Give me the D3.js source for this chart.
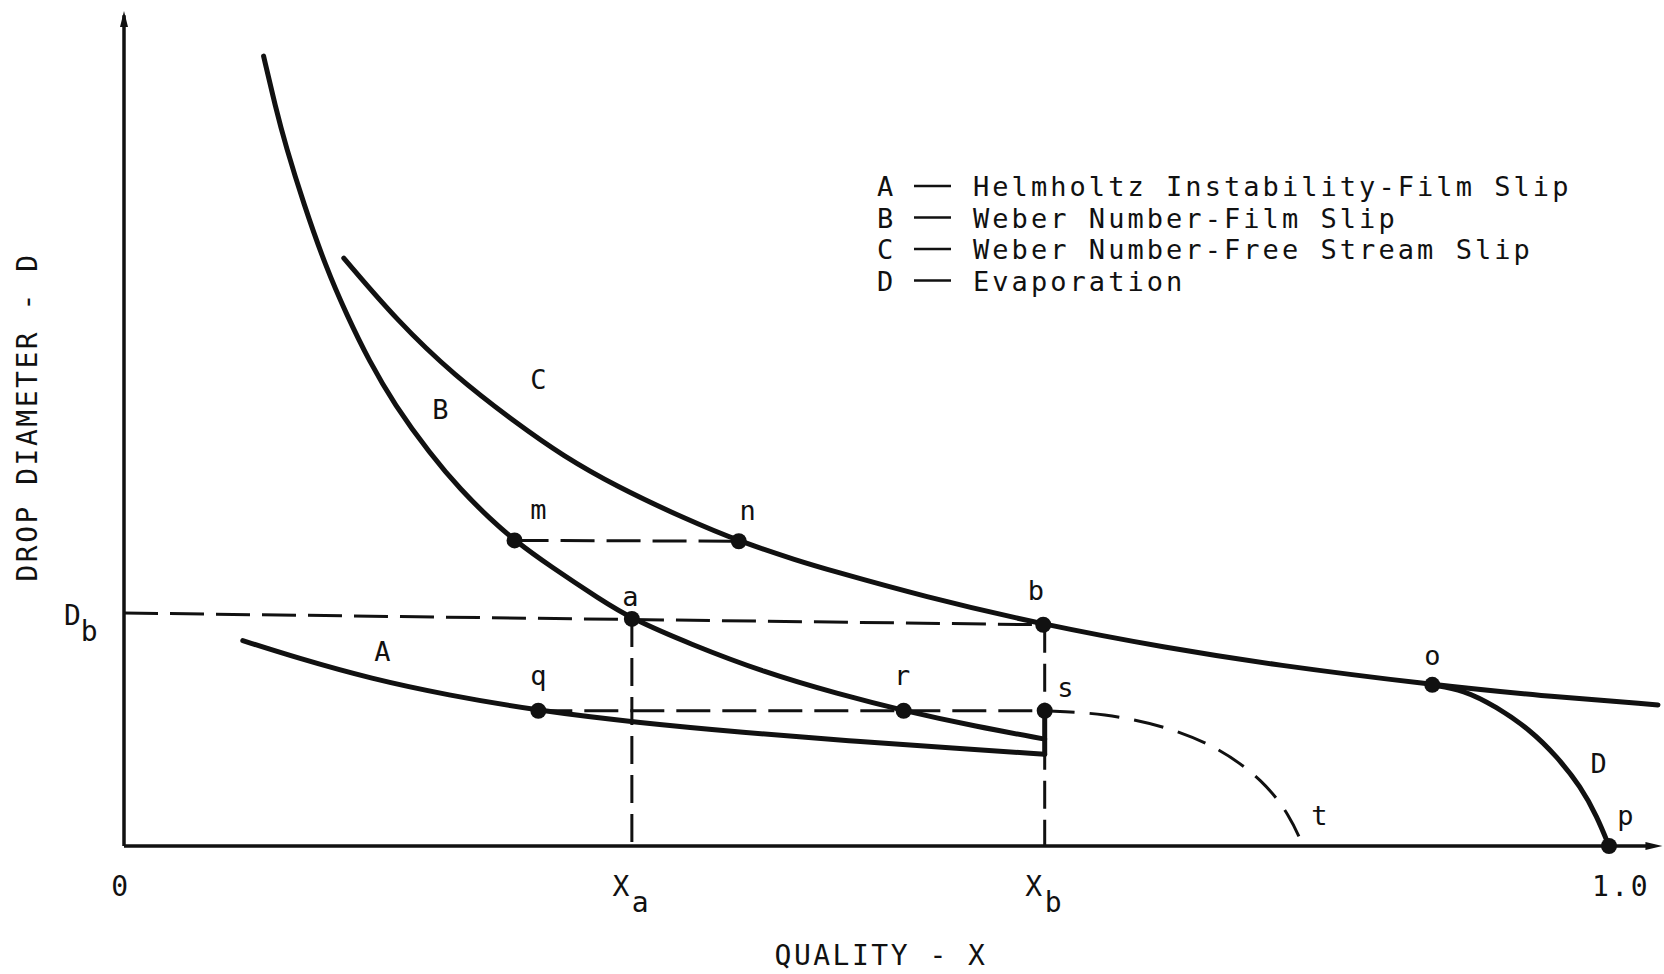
<!DOCTYPE html>
<html>
<head>
<meta charset="utf-8">
<script src="https://cdn.jsdelivr.net/npm/d3@7"></script>
<style>
  body { margin: 0; padding: 0; background: #ffffff; }
  text { font-family: "DejaVu Sans Mono", monospace; fill: #111; }
</style>
</head>
<body>
<script>
// quality (x, 0..1) and drop diameter (y, 0..1 of axis height)
const curveA = [
  [0.080, 0.246], [0.117, 0.225], [0.167, 0.200], [0.217, 0.181], [0.279, 0.162],
  [0.345, 0.148], [0.417, 0.136], [0.488, 0.126], [0.560, 0.117], [0.620, 0.110]
];
const curveB = [
  [0.094, 0.946], [0.102, 0.885], [0.109, 0.838], [0.121, 0.769], [0.136, 0.693],
  [0.150, 0.636], [0.165, 0.581], [0.182, 0.529], [0.206, 0.470], [0.227, 0.426],
  [0.247, 0.391], [0.263, 0.366], [0.287, 0.335], [0.321, 0.295], [0.342, 0.272],
  [0.381, 0.242], [0.431, 0.208], [0.481, 0.182], [0.525, 0.162], [0.574, 0.143],
  [0.620, 0.128]
];
const curveC = [
  [0.148, 0.704], [0.184, 0.629], [0.222, 0.564], [0.266, 0.504], [0.295, 0.468],
  [0.331, 0.431], [0.379, 0.391], [0.414, 0.365], [0.455, 0.341], [0.474, 0.331],
  [0.538, 0.299], [0.619, 0.265], [0.703, 0.237], [0.774, 0.217], [0.881, 0.193],
  [0.953, 0.180], [1.033, 0.169]
];
const curveD = [
  [0.881, 0.193], [0.902, 0.187], [0.924, 0.167], [0.947, 0.139], [0.965, 0.107],
  [0.981, 0.071], [0.992, 0.035], [1.000, 0.000]
];
const curveT = [
  [0.620, 0.162], [0.660, 0.159], [0.703, 0.143], [0.738, 0.117], [0.767, 0.079],
  [0.785, 0.037], [0.794, 0.000]
];

const Xa = 0.342;
const Xb = 0.620;
const DbLeft = 0.279;

// named points
const points = [
  { id: 'm', x: 0.263, y: 0.366 },
  { id: 'n', x: 0.414, y: 0.365 },
  { id: 'a', x: 0.342, y: 0.272 },
  { id: 'b', x: 0.619, y: 0.265 },
  { id: 'q', x: 0.279, y: 0.162 },
  { id: 'r', x: 0.525, y: 0.162 },
  { id: 's', x: 0.620, y: 0.162 },
  { id: 'o', x: 0.881, y: 0.193 },
  { id: 'p', x: 1.000, y: 0.000 }
];

// labels sitting next to points / curves
const labels = [
  { t: 'C', x: 0.279, y: 0.547 },
  { t: 'B', x: 0.213, y: 0.511 },
  { t: 'A', x: 0.174, y: 0.221 },
  { t: 'm', x: 0.279, y: 0.392 },
  { t: 'n', x: 0.420, y: 0.390 },
  { t: 'a', x: 0.341, y: 0.287 },
  { t: 'b', x: 0.614, y: 0.295 },
  { t: 'q', x: 0.279, y: 0.193 },
  { t: 'r', x: 0.524, y: 0.193 },
  { t: 's', x: 0.634, y: 0.179 },
  { t: 'o', x: 0.881, y: 0.217 },
  { t: 'D', x: 0.993, y: 0.088 },
  { t: 't', x: 0.805, y: 0.025 },
  { t: 'p', x: 1.011, y: 0.025 }
];

const legendKeys = ['A', 'B', 'C', 'D'];
const legendNames = [
  'Helmholtz Instability-Film Slip',
  'Weber Number-Film Slip',
  'Weber Number-Free Stream Slip',
  'Evaporation'
];

const xTicks = [
  { v: 0, main: '0', sub: '' },
  { v: Xa, main: 'X', sub: 'a' },
  { v: Xb, main: 'X', sub: 'b' },
  { v: 1, main: '1.0', sub: '' }
];

const width = 1664;
const height = 974;

const xScale = d3.scaleLinear().domain([0, 1]).range([124, 1609]);
const yScale = d3.scaleLinear().domain([0, 1]).range([846, 11]);

const svg = d3.select('body').append('svg')
  .attr('width', width)
  .attr('height', height);

svg.append('rect').attr('width', width).attr('height', height).attr('fill', '#fff');

const line = d3.line()
  .x(d => xScale(d[0]))
  .y(d => yScale(d[1]))
  .curve(d3.curveBasis);

const straight = d3.line()
  .x(d => xScale(d[0]))
  .y(d => yScale(d[1]));

// axes
const axes = svg.append('g').attr('stroke', '#111').attr('stroke-width', 3.5).attr('fill', 'none');
axes.append('path').attr('d', straight([[0, 0], [0, 0.995]]));
axes.append('path').attr('d', `M${xScale(0)},${yScale(0)}H${xScale(1.03)}`);

svg.append('path')
  .attr('fill', '#111')
  .attr('d', `M${xScale(0)},${yScale(1)} l-4,16 l8,0 z`);
svg.append('path')
  .attr('fill', '#111')
  .attr('d', `M${xScale(1.036)},${yScale(0)} l-17,-4 l0,8 z`);

// dashed guides
const dashed = svg.append('g')
  .attr('stroke', '#111')
  .attr('stroke-width', 3)
  .attr('fill', 'none');

const pt = id => points.find(p => p.id === id);

dashed.append('path')
  .attr('stroke-dasharray', '34,12')
  .attr('d', straight([[0, DbLeft], [pt('b').x, pt('b').y]]));
dashed.append('path')
  .attr('stroke-dasharray', '34,12')
  .attr('d', straight([[pt('m').x, pt('m').y], [pt('n').x, pt('n').y]]));
dashed.append('path')
  .attr('stroke-dasharray', '34,12')
  .attr('d', straight([[pt('q').x, pt('q').y], [pt('s').x, pt('s').y]]));
dashed.append('path')
  .attr('stroke-dasharray', '28,11')
  .attr('d', straight([[Xa, pt('a').y], [Xa, 0]]));
dashed.append('path')
  .attr('stroke-dasharray', '28,11')
  .attr('d', straight([[Xb, pt('b').y], [Xb, 0]]));
dashed.append('path')
  .attr('stroke-dasharray', '30,15')
  .attr('d', line(curveT));

// curves
const curves = svg.append('g')
  .attr('stroke', '#111')
  .attr('stroke-width', 5)
  .attr('stroke-linecap', 'round')
  .attr('stroke-linejoin', 'round')
  .attr('fill', 'none');

curves.selectAll('path.c')
  .data([curveA, curveB, curveC, curveD])
  .join('path')
    .attr('class', 'c')
    .attr('d', line);

// solid drop at Xb joining B and A
curves.append('path')
  .attr('d', straight([[Xb, pt('s').y], [Xb, curveA[curveA.length - 1][1]]]));

// points
svg.append('g')
  .attr('fill', '#111')
  .selectAll('circle')
  .data(points)
  .join('circle')
    .attr('cx', d => xScale(d.x))
    .attr('cy', d => yScale(d.y))
    .attr('r', 8);

// point / curve labels
svg.append('g')
  .selectAll('text')
  .data(labels)
  .join('text')
    .attr('x', d => xScale(d.x))
    .attr('y', d => yScale(d.y))
    .attr('text-anchor', 'middle')
    .attr('font-size', 27)
    .text(d => d.t);

// x tick labels
const tickText = svg.append('g')
  .selectAll('text')
  .data(xTicks)
  .join('text')
    .attr('x', (d, i) => xScale(d.v) + (i === 0 ? -3 : (i === 3 ? 12 : 0)))
    .attr('y', 896)
    .attr('text-anchor', 'middle')
    .attr('font-size', 28)
    .attr('letter-spacing', 2.5);
tickText.append('tspan').text(d => d.main);
tickText.append('tspan')
  .attr('dy', 16)
  .text(d => d.sub);

// Db label
const db = svg.append('text')
  .attr('x', 64)
  .attr('y', yScale(DbLeft) + 12)
  .attr('font-size', 28);
db.append('tspan').text('D');
db.append('tspan').attr('dy', 16).text('b');

// axis titles
svg.append('text')
  .attr('x', 881)
  .attr('y', 965)
  .attr('text-anchor', 'middle')
  .attr('font-size', 28)
  .attr('letter-spacing', 2.5)
  .text('QUALITY - X');

svg.append('text')
  .attr('transform', 'translate(37,417) rotate(-90)')
  .attr('text-anchor', 'middle')
  .attr('font-size', 28)
  .attr('letter-spacing', 2.5)
  .text('DROP DIAMETER - D');

// legend
const legend = svg.append('g');
const rowY = i => 196 + i * 31.5;

legend.selectAll('text.key')
  .data(legendKeys)
  .join('text')
    .attr('class', 'key')
    .attr('x', 877)
    .attr('y', (d, i) => rowY(i))
    .attr('font-size', 27)
    .text(d => d);

legend.selectAll('line')
  .data(legendKeys)
  .join('line')
    .attr('x1', 914)
    .attr('x2', 951)
    .attr('y1', (d, i) => rowY(i) - 10)
    .attr('y2', (d, i) => rowY(i) - 10)
    .attr('stroke', '#111')
    .attr('stroke-width', 2.5);

legend.selectAll('text.name')
  .data(legendNames)
  .join('text')
    .attr('class', 'name')
    .attr('x', 973)
    .attr('y', (d, i) => rowY(i))
    .attr('font-size', 27)
    .attr('letter-spacing', 3.05)
    .text(d => d);
</script>
</body>
</html>
